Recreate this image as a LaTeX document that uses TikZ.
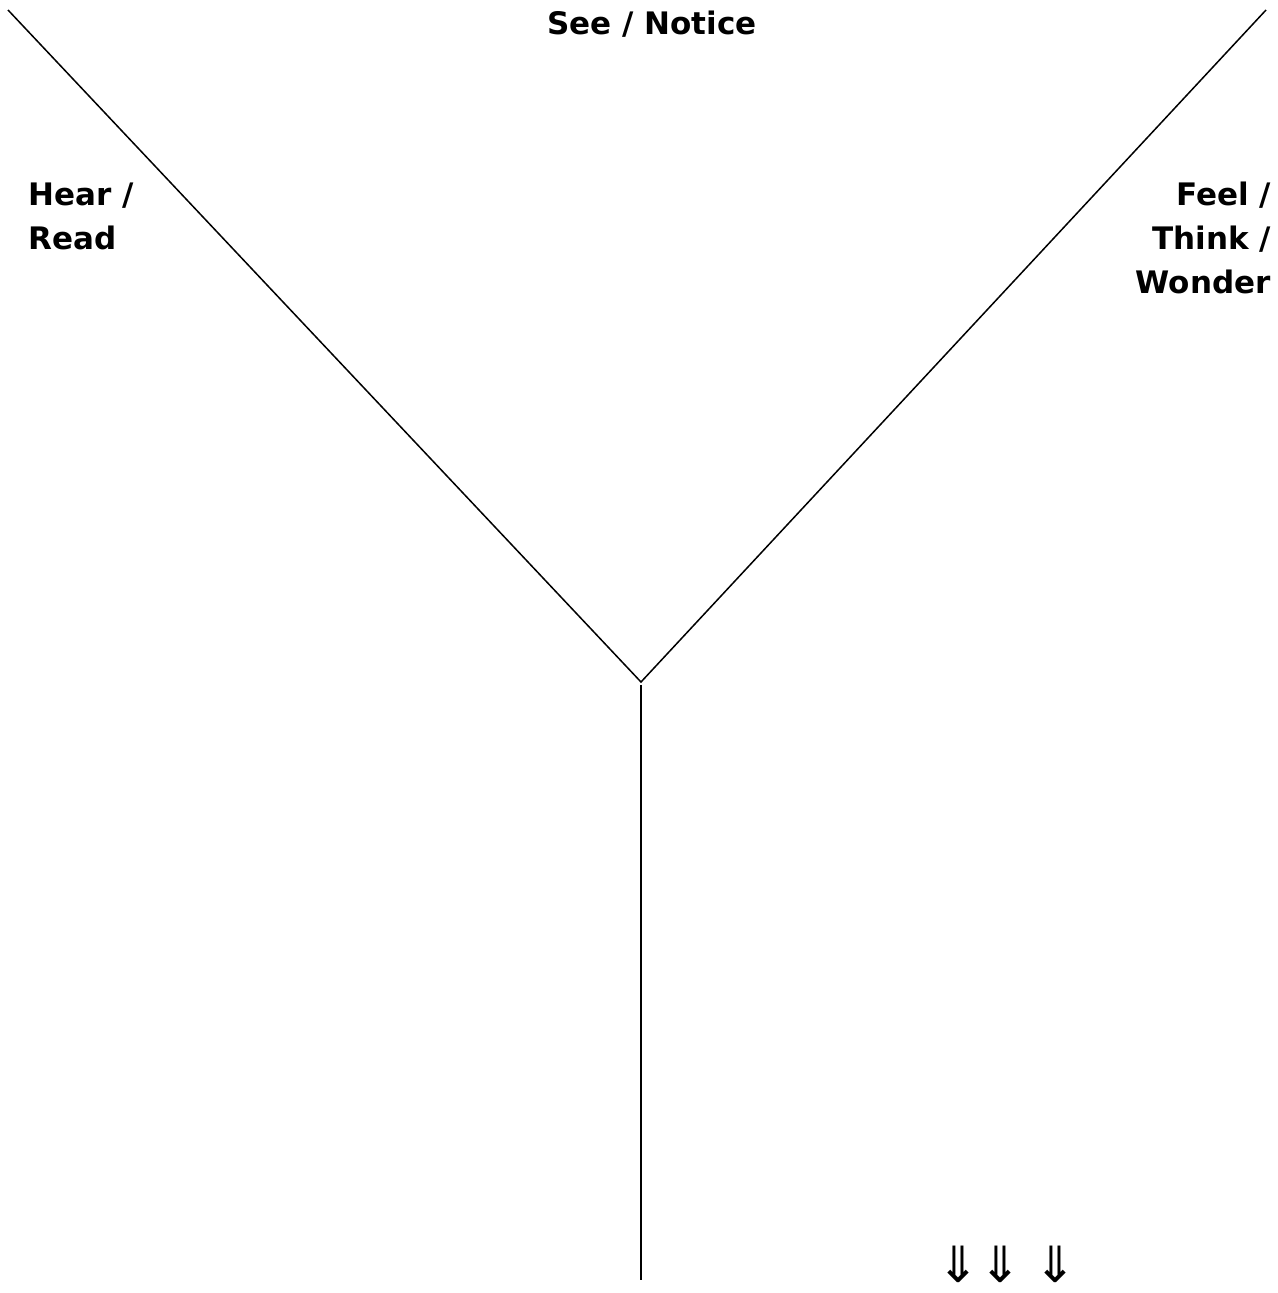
\documentclass[tikz,border=0pt]{standalone}
\usepackage{fontspec}
\setmainfont{DejaVu Sans}
\newfontfamily\arrowfont{DejaVu Sans}
\begin{document}
\begin{tikzpicture}[x=1pt,y=-1pt,
  lbl/.style={font=\bfseries\fontsize{31}{44}\selectfont, inner sep=0pt},
  arr/.style={font=\arrowfont\fontsize{50}{50}\selectfont, inner sep=0pt},
  edge/.style={draw=black, line width=1.5pt}]
\useasboundingbox (0,0) rectangle (1277,1293);
\coordinate (lt) at (8,10);
\coordinate (rt) at (1266,10);
\coordinate (j) at (641,682);
\coordinate (vt) at (641,685);
\coordinate (vb) at (641,1280);
\draw[edge] (lt) -- (j) -- (rt);
\draw[edge] (vt) -- (vb);
\node[lbl, anchor=base] (see) at (652,34) {See / Notice};
\node[lbl, anchor=base west] (hear1) at (28,205) {Hear /};
\node[lbl, anchor=base west] (hear2) at (28,249) {Read};
\node[lbl, anchor=base east] (feel1) at (1271,205) {Feel /};
\node[lbl, anchor=base east] (feel2) at (1271,249) {Think /};
\node[lbl, anchor=base east] (feel3) at (1271,293) {Wonder};
\node[arr] (a1) at (958,1264) {⇓};
\node[arr] (a2) at (1000,1264) {⇓};
\node[arr] (a3) at (1055,1264) {⇓};
\end{tikzpicture}
\end{document}
